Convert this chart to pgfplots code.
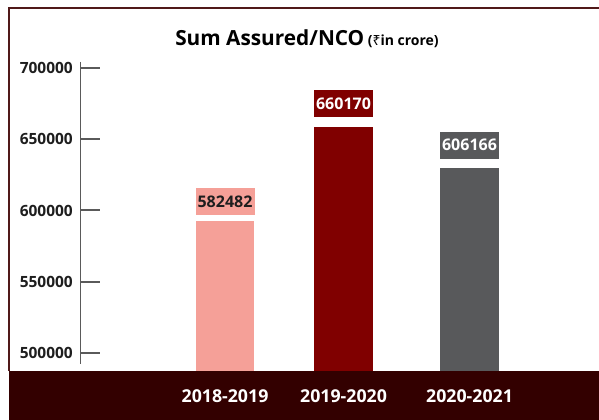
\documentclass[border=0pt]{standalone}
\usepackage{pgfplots}
\pgfplotsset{compat=1.18}
\usepackage{fontspec}
\setmainfont{Open Sans}
\newfontfamily\rupeefont{Noto Sans}
\definecolor{bandc}{RGB}{51,0,0}
\definecolor{framec}{RGB}{80,25,25}
\definecolor{pinkc}{RGB}{245,160,152}
\definecolor{maroonc}{RGB}{128,0,0}
\definecolor{greyc}{RGB}{88,89,91}
\definecolor{axisc}{RGB}{90,90,90}
\definecolor{txtc}{RGB}{30,30,30}
\begin{document}
\begin{tikzpicture}[x=0.75pt,y=0.75pt]
\useasboundingbox (0,0) rectangle (599,420);
% canvas
\fill[white] (0,0) rectangle (599,420);
% bottom band
\fill[bandc] (9,0) rectangle (599,49);
% frame
\draw[framec, line width=1.2pt] (9,49) -- (9,412) -- (599,412);
% title
\node[anchor=base west, inner sep=0pt, text=black] at (175,374)
  {\bfseries\fontsize{15.6}{18}\selectfont Sum Assured/NCO\,{\fontsize{10.5}{12}\selectfont(\rupeefont\bfseries ₹\normalfont\bfseries in crore)}};
\begin{axis}[
  at={(60pt,36.75pt)}, anchor=south west,
  scale only axis, width=389.25pt, height=272.25pt,
  xmin=80, xmax=599, ymin=487368, ymax=742105,
  axis line style={draw=none},
  ytick={500000,550000,600000,650000,700000},
  ytick pos=left, tick align=inside,
  major tick length=15pt,
  ytick style={axisc, line width=1.5pt},
  xtick=\empty,
  scaled y ticks=false,
  /pgf/number format/.cd, fixed, 1000 sep={}, assume math mode=true,
  /pgfplots/.cd,
  yticklabel style={anchor=east, inner sep=0pt, xshift=-5.25pt, text=txtc,
    font=\bfseries\fontsize{11.6}{14}\selectfont},
  ybar, bar width=43.875pt,
  every node near coord/.append style={anchor=south, inner sep=0pt,
    minimum width=44.25pt, minimum height=20.25pt,
    font=\bfseries\fontsize{12}{14}\selectfont},
]
\addplot[bar shift=0pt, fill=pinkc, draw=none,
  nodes near coords={582482},
  every node near coord/.append style={fill=pinkc, text=txtc, yshift=4.2pt}]
  coordinates {(225,592632)};
\addplot[bar shift=0pt, fill=maroonc, draw=none,
  nodes near coords={660170},
  every node near coord/.append style={fill=maroonc, text=white, yshift=6.75pt}]
  coordinates {(343.5,658807)};
\addplot[bar shift=0pt, fill=greyc, draw=none,
  nodes near coords={606166},
  every node near coord/.append style={fill=greyc, text=white, yshift=6.5pt}]
  coordinates {(469.5,630035)};
\draw[axisc, line width=1.5pt] (axis cs:80,704210) -- (axis cs:80,492281);
\end{axis}
% category labels in the band
\foreach \xx/\lab in {225/2018-2019, 343.5/2019-2020, 469.5/2020-2021}
  \node[text=white, inner sep=0pt, font=\bfseries\fontsize{13.3}{16}\selectfont] at (\xx,23.5) {\lab};
\end{tikzpicture}
\end{document}
